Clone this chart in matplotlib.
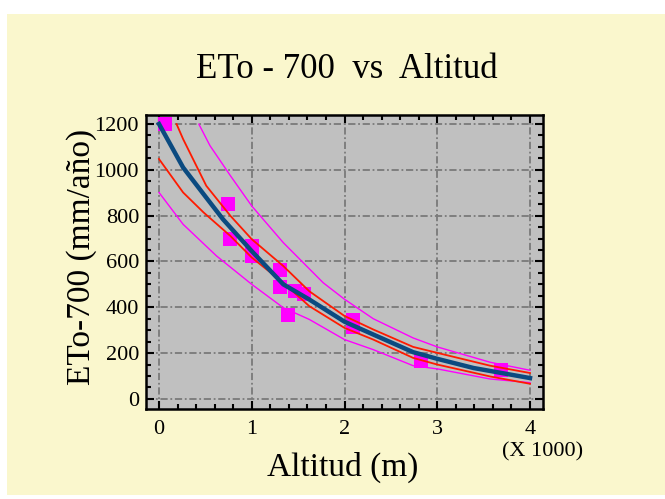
import matplotlib
matplotlib.use("Agg")
import matplotlib.pyplot as plt
from matplotlib.patches import Rectangle
from matplotlib.ticker import MultipleLocator

# observed points (altitude in thousands of m, ETo-700 in mm/year)
alt_obs = [0.065, 0.74, 0.77, 1.005, 1.005, 1.30, 1.30, 1.47, 1.56, 1.39, 2.09, 2.09, 2.82, 3.69]
eto_obs = [1200, 851, 698, 667, 624, 564, 487, 470, 456, 368, 344, 315, 167, 126]

# fitted model
fit_x = [0, 0.26, 0.48, 0.69, 1.0, 1.34, 1.62, 2.0, 2.31, 2.74, 3.0, 3.39, 4.0]
fit_y = [1200, 1010, 894, 784, 645, 500, 434, 337, 281, 204, 175, 135, 91]

# confidence limits (red)
conf_up_x = [0.19, 0.26, 0.51, 0.77, 1.0, 1.34, 1.62, 2.0, 2.31, 2.74, 3.0, 3.57, 4.0]
conf_up_y = [1199, 1134, 930, 799, 697, 580, 470, 362, 303, 227, 201, 145, 113]
conf_lo_x = [0, 0.26, 0.48, 0.77, 1.0, 1.34, 1.62, 2.0, 2.31, 2.74, 3.0, 3.57, 4.0]
conf_lo_y = [1047, 901, 814, 711, 617, 507, 405, 310, 259, 179, 150, 98, 66]

# prediction limits (magenta)
pred_up_x = [0.43, 0.55, 0.77, 1.0, 1.34, 1.77, 2.0, 2.31, 2.74, 3.0, 3.57, 4.0]
pred_up_y = [1199, 1105, 974, 842, 682, 507, 435, 350, 266, 227, 160, 125]
pred_lo_x = [0, 0.26, 0.62, 1.0, 1.34, 1.62, 2.0, 2.31, 2.74, 3.0, 3.57, 4.0]
pred_lo_y = [901, 762, 624, 500, 398, 347, 259, 215, 145, 131, 87, 71]

x_ticks = [0, 1, 2, 3, 4]
y_ticks = [0, 200, 400, 600, 800, 1000, 1200]

plt.rcParams['font.family'] = ['Liberation Serif', 'DejaVu Serif']

fig = plt.figure(figsize=(6.65, 4.99), dpi=100, facecolor="white")
fig.patches.append(Rectangle((7 / 665, 4 / 499), 1, 481 / 499, transform=fig.transFigure,
                             facecolor="#faf7cd", edgecolor="none", zorder=-10))

ax = fig.add_axes([146 / 665, 1 - 409 / 499, 397 / 665, 294 / 499])
ax.set_facecolor("#c0c0c0")

ax.plot(alt_obs, eto_obs, "s", color="#ff00ff", markersize=9.5, markeredgewidth=0, zorder=3)
ax.plot(pred_up_x, pred_up_y, color="#ff00ff", lw=1.0, zorder=4)
ax.plot(pred_lo_x, pred_lo_y, color="#ff00ff", lw=1.0, zorder=4)
ax.plot(conf_up_x, conf_up_y, color="#ff1a00", lw=1.3, zorder=4)
ax.plot(conf_lo_x, conf_lo_y, color="#ff1a00", lw=1.3, zorder=4)
ax.plot(fit_x, fit_y, color="#0b4a80", lw=3.2, zorder=5)

ax.set_xlim(-0.14, 4.14)
ax.set_ylim(-44, 1239)
ax.set_xticks(x_ticks)
ax.set_yticks(y_ticks)
ax.xaxis.set_minor_locator(MultipleLocator(0.2))
ax.yaxis.set_minor_locator(MultipleLocator(50))
ax.tick_params(which="both", direction="in", top=True, right=True, width=1.5, labelsize=16)
ax.tick_params(which="major", length=6)
ax.tick_params(which="minor", length=3.5)
ax.tick_params(axis="x", pad=8)
ax.tick_params(axis="y", pad=5)
for s in ax.spines.values():
    s.set_linewidth(1.8)

ax.grid(True, which="major", color="#7a7a7a", lw=1.3, linestyle=(0, (4, 1.5, 1, 1.5)), zorder=1)
ax.set_axisbelow(True)

fig.text(0.522, 0.86, "ETo - 700  vs  Altitud", ha="center", va="center", fontsize=25)
fig.text(0.122, 0.485, "ETo-700 (mm/año)", ha="center", va="center", rotation=90, fontsize=24)
fig.text(0.516, 0.064, "Altitud (m)", ha="center", va="center", fontsize=24)
fig.text(0.816, 0.094, "(X 1000)", ha="center", va="center", fontsize=16)

fig.savefig("out.png", dpi=100, facecolor=fig.get_facecolor())
